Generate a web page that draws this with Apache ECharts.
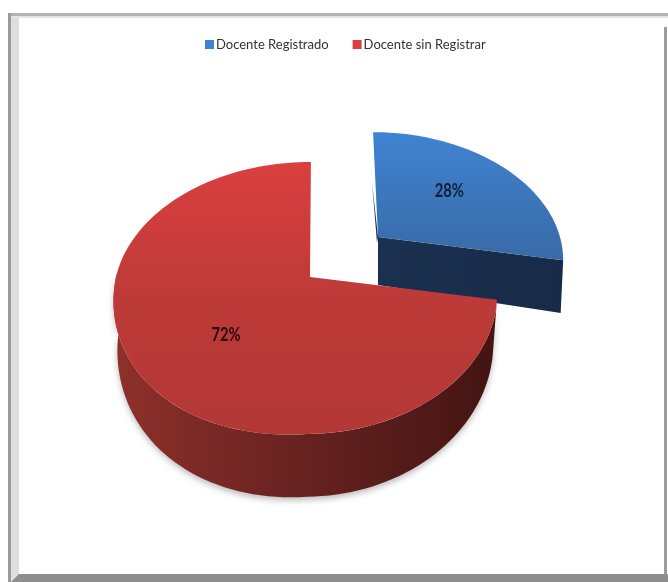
<!DOCTYPE html>
<html><head><meta charset="utf-8">
<style>html,body{margin:0;padding:0;background:#fff}#c{width:668px;height:582px}</style>
<script src="https://cdn.jsdelivr.net/npm/echarts@6/dist/echarts.min.js"></script>
</head><body><div id="c"></div>
<script>
const categories = ['Docente Registrado', 'Docente sin Registrar'];
const values = [28, 72];
const topColors = [['#4083d2', '#386aa6'], ['#da3f3f', '#bd3a38', '#b23835']];
const wallColors = [['#1b3050', '#172a47'], ['#8f302b', '#662220', '#431412']];
const labelColors = ['#101f3d', '#2b0b0b'];
const total = values.reduce((a, b) => a + b, 0);

// Per-slice perspective pose (layout only)
const poses = [
  { cx: 378, cy: 237, rxL: 182, rxR: 182, ry: 121, p: 0.154, sk: 0.047, tilt: 0, tiltL: 0,
    bottom: { dy: 48, sx: 0.985, sy: 1.2 }, lf: 0.55, ldy: -6 },
  { cx: 310, cy: 277, rxL: 194, rxR: 185, ry: 132.8, p: 0.154, sk: -0.008, tilt: -3, tiltL: 16,
    bottom: { dy: 47, sx: 0.98, sy: 1.1 }, lf: 0.53, ldy: 9 }
];

function proj(pose, deg, f, low) {
  const a = deg * Math.PI / 180;
  const u = Math.sin(a) * f, v = -Math.cos(a) * f;
  const w = 1 - pose.p * v;
  const rx = (u > 0 ? pose.rxR : pose.rxL) * (low ? pose.bottom.sx : 1);
  const ry = pose.ry * (low ? pose.bottom.sy : 1);
  const cy = pose.cy + (low ? pose.bottom.dy : 0);
  let y = cy + ry * v / w;
  if (u > 0) y += pose.tilt * u;
  else if (v > 0) y += pose.tiltL * -u * v;
  const x = pose.cx + rx * u / w + pose.sk * (y - cy);
  return [x, y];
}
function arc(pose, from, to, low) {
  const pts = [];
  const n = Math.max(2, Math.ceil(Math.abs(to - from) / 2));
  for (let i = 0; i <= n; i++) pts.push(proj(pose, from + (to - from) * i / n, 1, low));
  return pts;
}
function grad(colors, horizontal) {
  return new echarts.graphic.LinearGradient(0, 0, horizontal ? 1 : 0, horizontal ? 0 : 1,
    colors.map((c, i) => ({ offset: i / (colors.length - 1), color: c })));
}
function renderSlice(params, api) {
  const i = params.seriesIndex, pose = poses[i];
  let start = 0;
  for (let k = 0; k < i; k++) start += values[k] / total * 360;
  const end = start + api.value(0) / total * 360;
  const apex = proj(pose, 0, 0, false);
  const apexLow = proj(pose, 0, 0, true);
  const children = [];
  if (i === 0) {
    // cut face of the exploded slice, facing the viewer
    const t = proj(pose, end, 1, false), b = proj(pose, end, 1, true);
    children.push({ type: 'polygon', shape: { points: [apex, t, b, apexLow] },
      style: { fill: grad(wallColors[0], true) } });
    children.push({ type: 'polygon', shape: { points: [apex, [apex[0] - 1, apex[1] + 6], [apex[0] - 6, apex[1] - 55]] },
      style: { fill: '#1b3050' } });
  } else {
    const wallEnd = 272;
    const up = arc(pose, start, wallEnd, false);
    const dn = arc(pose, wallEnd, start, true);
    children.push({ type: 'polygon', shape: { points: up.concat(dn) },
      style: { fill: grad(wallColors[1], true), shadowBlur: 6, shadowColor: 'rgba(60,60,60,0.35)', shadowOffsetY: 3 } });
  }
  children.push({ type: 'polygon', shape: { points: [apex].concat(arc(pose, start, end, false)) },
    style: { fill: grad(topColors[i], false) } });
  const mid = (start + end) / 2;
  const lp = proj(pose, mid, pose.lf, false);
  children.push({ type: 'text', x: lp[0], y: lp[1] + pose.ldy, scaleX: 0.82, style: {
    text: Math.round(api.value(0) / total * 100) + '%', align: 'center', verticalAlign: 'middle',
    fill: labelColors[i], font: 'bold 18px Lato,sans-serif' } });
  return { type: 'group', children };
}

const chart = echarts.init(document.getElementById('c'), null, { renderer: 'canvas' });
chart.setOption({
  animation: false,
  backgroundColor: '#ffffff',
  legend: {
    data: categories, left: 200, top: 33, itemWidth: 9, itemHeight: 9, itemGap: 24, icon: 'rect',
    textStyle: { color: '#333333', fontSize: 13, padding: [0, 0, 0, -3], fontFamily: 'Lato,sans-serif' }
  },
  graphic: { elements: [
    { type: 'rect', z: -1, shape: { x: 8, y: 13, width: 660, height: 3 }, style: { fill: '#b4b4b4' } },
    { type: 'rect', z: -1, shape: { x: 8, y: 16, width: 660, height: 2 }, style: { fill: '#e4e4e4' } },
    { type: 'rect', z: -1, shape: { x: 8, y: 13, width: 3, height: 569 }, style: { fill: '#9a9a9a' } },
    { type: 'rect', z: -1, shape: { x: 11, y: 18, width: 8, height: 564 }, style: { fill: '#dedede' } },
    { type: 'rect', z: -1, shape: { x: 664, y: 27, width: 3, height: 555 }, style: { fill: '#9c9c9c' } },
    { type: 'polygon', z: -1, shape: { points: [[11, 582], [19, 574], [668, 574], [668, 582]] }, style: { fill: '#8e8e8e' } }
  ] },
  series: categories.map((name, i) => ({
    type: 'custom', name, coordinateSystem: 'none',
    itemStyle: { color: topColors[i][0] },
    renderItem: renderSlice, data: [[values[i]]], z: 2 + i
  }))
});
</script></body></html>
